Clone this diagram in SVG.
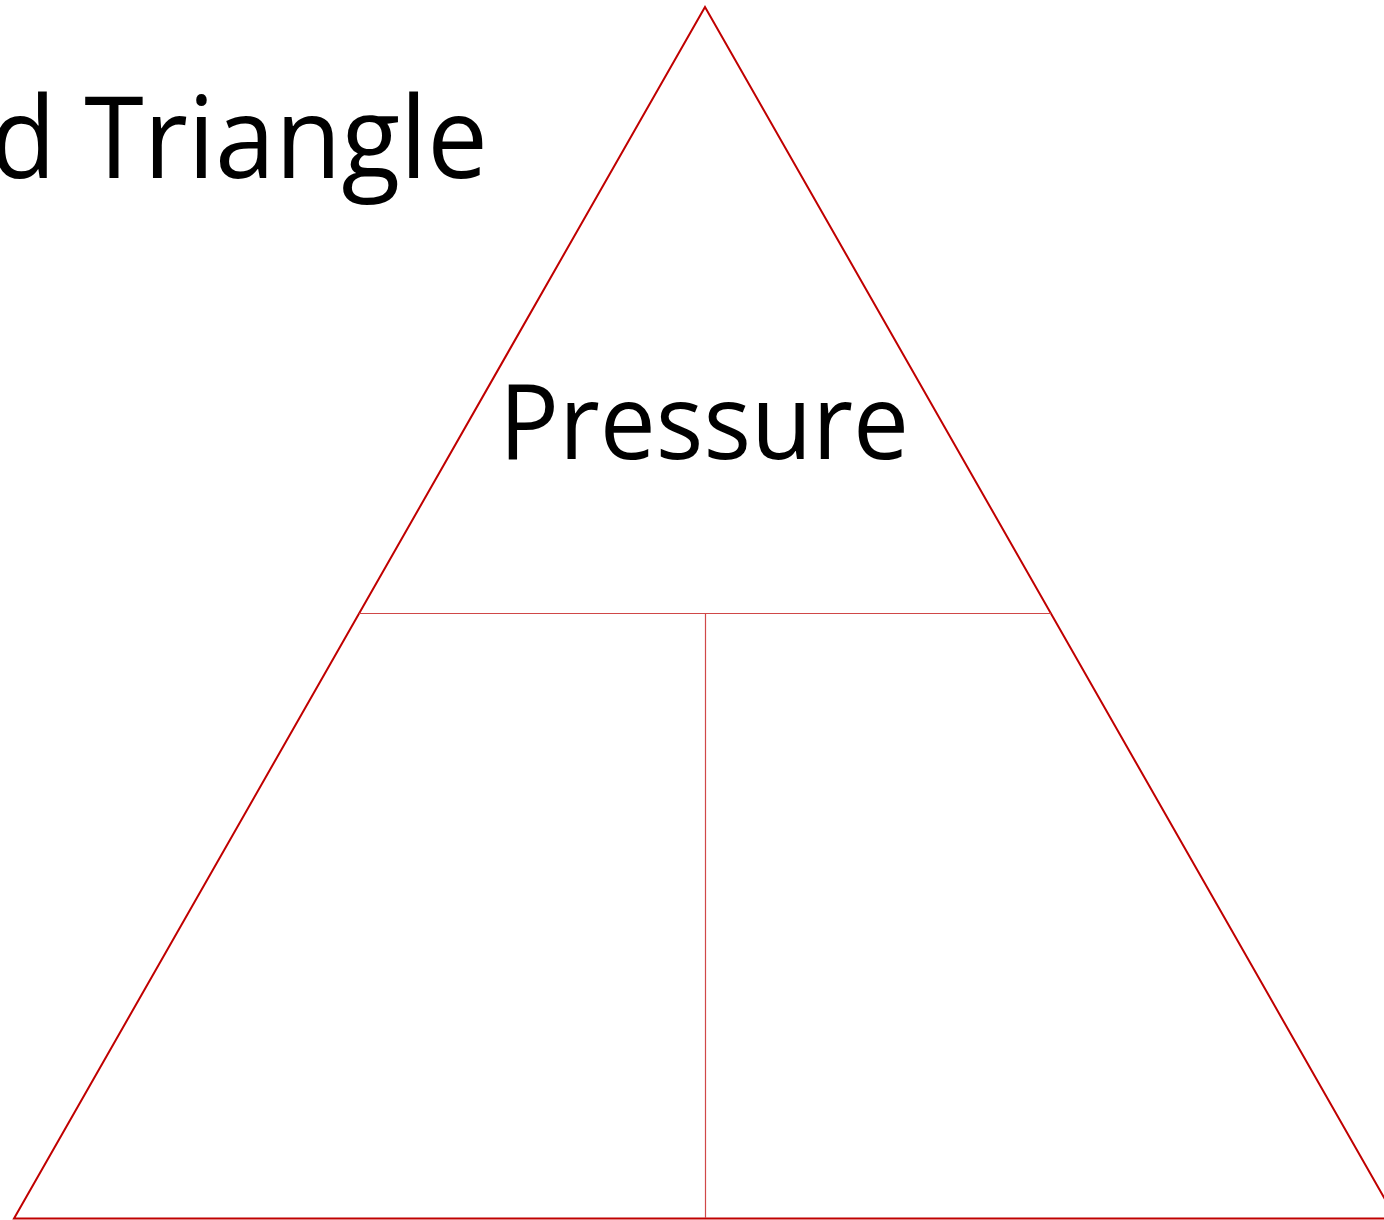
<svg xmlns="http://www.w3.org/2000/svg" width="1384" height="1220" viewBox="0 0 1384 1220">
<style>
.t{font-family:"Open Sans","Noto Sans","Liberation Sans",sans-serif;fill:#000}
.outer{fill:none;stroke:#C00000;stroke-width:2}
.inner{fill:none;stroke:#D04848;stroke-width:1.2}
</style>
<rect width="1384" height="1220" fill="#fff"/>
<g id="title"><text class="t" x="-10" y="178" font-size="114" textLength="498" lengthAdjust="spacingAndGlyphs">d Triangle</text></g>
<g id="triangle"><polygon class="outer" points="705,7 14,1218.5 1396,1218.5"/></g>
<g id="connectors">
<line class="inner" x1="359" y1="613.5" x2="1051" y2="613.5"/>
<line class="inner" x1="705.5" y1="613.5" x2="705.5" y2="1218"/>
</g>
<g id="pressure"><text class="t" x="499" y="459" font-size="104" textLength="410" lengthAdjust="spacingAndGlyphs">Pressure</text></g>
</svg>
